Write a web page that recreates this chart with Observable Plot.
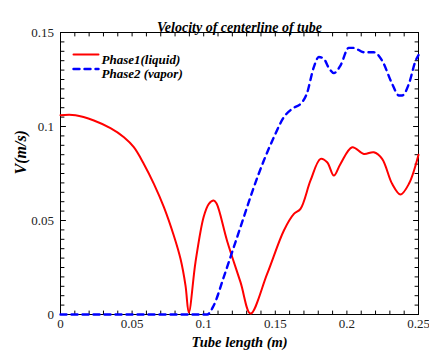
<!DOCTYPE html>
<html>
<head>
<meta charset="utf-8">
<script src="https://cdn.jsdelivr.net/npm/d3@7"></script>
<script src="https://cdn.jsdelivr.net/npm/@observablehq/plot@0.6"></script>
<style>
  html, body { margin: 0; padding: 0; background: #fff; }
  #chart svg { display: block; }
</style>
</head>
<body>
<div id="chart"></div>
<script>
// ---- data ----
const liquidX = [0, 0.0105, 0.0233, 0.0349, 0.0443, 0.0512, 0.0582, 0.0652, 0.0722, 0.0791, 0.0838, 0.0873, 0.0896, 0.0943, 0.1, 0.1036, 0.107, 0.109, 0.1164, 0.1257, 0.1327, 0.1443, 0.156, 0.163, 0.1676, 0.1746, 0.1816, 0.1862, 0.1909, 0.1955, 0.2037, 0.2118, 0.2188, 0.2246, 0.2316, 0.2374, 0.2433, 0.25];
const liquidV = [0.106, 0.106, 0.1032, 0.0991, 0.0943, 0.089, 0.0801, 0.0695, 0.0571, 0.042, 0.0296, 0.0154, 0.001, 0.028, 0.052, 0.0589, 0.0606, 0.059, 0.039, 0.0172, 0.0005, 0.0216, 0.0447, 0.0535, 0.0562, 0.0713, 0.0828, 0.081, 0.0739, 0.0801, 0.089, 0.0854, 0.0863, 0.0828, 0.0695, 0.0638, 0.0695, 0.085];

const vaporX = [0, 0.1024, 0.107, 0.114, 0.121, 0.128, 0.135, 0.142, 0.149, 0.156, 0.163, 0.1676, 0.172, 0.1769, 0.1804, 0.1839, 0.1875, 0.1909, 0.1955, 0.2013, 0.2048, 0.2118, 0.2188, 0.2246, 0.2316, 0.2363, 0.2386, 0.2433, 0.248, 0.25];
const vaporV = [0, 0, 0.0048, 0.0199, 0.0358, 0.0518, 0.0677, 0.0819, 0.0943, 0.105, 0.110, 0.112, 0.1174, 0.1316, 0.137, 0.136, 0.131, 0.1284, 0.1324, 0.1418, 0.1418, 0.1395, 0.1395, 0.135, 0.1227, 0.1165, 0.1165, 0.1227, 0.135, 0.138];

const seriesNames = ["Phase1(liquid)", "Phase2 (vapor)"];
const xTickValues = [0, 0.05, 0.1, 0.15, 0.2, 0.25];
const xTickLabels = ["0", "0.05", "0.1", "0.15", "0.2", "0.25"];
const yTickValues = [0, 0.05, 0.1, 0.15];
const yTickLabels = ["0", "0.05", "0.1", "0.15"];
const titleText = "Velocity of centerline of tube";
const xLabel = "Tube length (m)";
const yLabel = "V(m/s)";

// ---- build tables ----
const liquid = liquidX.map((x, i) => ({x, v: liquidV[i]}));
const vapor = vaporX.map((x, i) => ({x, v: vaporV[i]}));
const xMinor = d3.range(0, 26).map(i => i / 100);
const yMinor = d3.range(0, 31).map(i => i / 200);
const yMajor = yTickValues;

const serif = "'Liberation Serif', 'Times New Roman', serif";
const lineShape = { draw(context, l) { context.moveTo(0, 0); context.lineTo(0, -l); } };
const tickOpts = { shape: lineShape, anchor: "start", stroke: "black", strokeWidth: 1 };
const bi = { fontWeight: "bold", fontStyle: "italic", fontFamily: serif, fill: "#000" };

const chart = Plot.plot({
  width: 429,
  height: 351,
  marginTop: 32,
  marginRight: 11,
  marginBottom: 37,
  marginLeft: 60,
  style: { fontFamily: serif, fontSize: "13px", background: "#fff", color: "#000" },
  x: { domain: [0, 0.25], axis: null },
  y: { domain: [0, 0.15], axis: null },
  marks: [
    Plot.frame({ stroke: "black", strokeWidth: 1 }),
    // inner ticks
    Plot.vector(xMinor, { x: d => d, frameAnchor: "bottom", rotate: 0, length: 3.5, ...tickOpts }),
    Plot.vector(xMinor, { x: d => d, frameAnchor: "top", rotate: 180, length: 3.5, ...tickOpts }),
    Plot.vector(yMinor, { y: d => d, frameAnchor: "left", rotate: 90, length: 3.5, ...tickOpts }),
    Plot.vector(yMinor, { y: d => d, frameAnchor: "right", rotate: -90, length: 3.5, ...tickOpts }),
    Plot.vector(yMajor, { y: d => d, frameAnchor: "left", rotate: 90, length: 5, ...tickOpts }),
    Plot.vector(yMajor, { y: d => d, frameAnchor: "right", rotate: -90, length: 5, ...tickOpts }),
    Plot.line(liquid, { x: "x", y: "v", stroke: "#ff0000", strokeWidth: 2, curve: "catmull-rom" }),
    Plot.line(vapor, { x: "x", y: "v", stroke: "#0000ff", strokeWidth: 2.4, strokeDasharray: "6,5", curve: "monotone-x" }),
    // tick labels
    Plot.text(xTickValues, { x: d => d, text: (d, i) => xTickLabels[i], frameAnchor: "bottom", dy: 13, fontSize: 13, fontFamily: serif, fill: "#222" }),
    Plot.text(yTickValues, { y: d => d, text: (d, i) => yTickLabels[i], frameAnchor: "left", dx: -6.5, textAnchor: "end", fontSize: 13, fontFamily: serif, fill: "#222" }),
    // title and axis labels
    Plot.text([titleText], { frameAnchor: "top", dy: -10.5, fontSize: 14, ...bi }),
    Plot.text([xLabel], { frameAnchor: "bottom", dy: 32.5, fontSize: 14.5, ...bi }),
    Plot.text([yLabel], { frameAnchor: "left", dx: -40, dy: 1, rotate: -90, fontSize: 16, ...bi }),
    // legend
    Plot.vector([seriesNames[0]], { frameAnchor: "top-left", dx: 13, dy: 22, rotate: 90, length: 25, shape: lineShape, anchor: "start", stroke: "#ff0000", strokeWidth: 2 }),
    Plot.vector([seriesNames[1]], { frameAnchor: "top-left", dx: 13, dy: 36.5, rotate: 90, length: 25, shape: lineShape, anchor: "start", stroke: "#0000ff", strokeWidth: 2.4, strokeDasharray: "6,5" }),
    Plot.text([seriesNames[0]], { frameAnchor: "top-left", dx: 41, dy: 22, textAnchor: "start", fontSize: 13, ...bi }),
    Plot.text([seriesNames[1]], { frameAnchor: "top-left", dx: 41, dy: 36.5, textAnchor: "start", fontSize: 13, ...bi })
  ]
});
document.getElementById("chart").appendChild(chart);
</script>
</body>
</html>
